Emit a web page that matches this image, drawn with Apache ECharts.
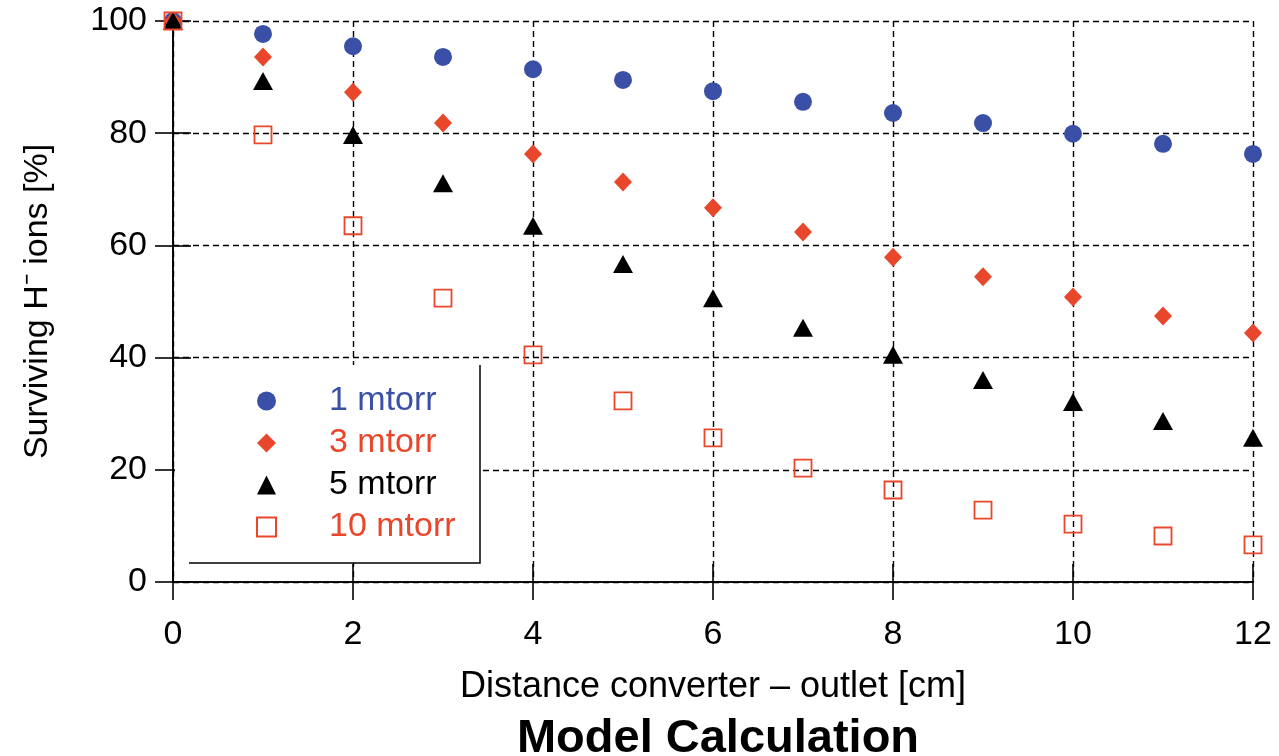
<!DOCTYPE html>
<html>
<head>
<meta charset="utf-8">
<title>Model Calculation</title>
<script src="https://cdn.jsdelivr.net/npm/echarts@6/dist/echarts.min.js"></script>
<style>
  html, body { margin: 0; padding: 0; background: #fff; }
  #chart { width: 1279px; height: 756px; }
</style>
</head>
<body>
<div id="chart"></div>
<script>
// distance converter - outlet [cm]
var distance = [0, 1, 2, 3, 4, 5, 6, 7, 8, 9, 10, 11, 12];

// surviving H- ions [%]
var mtorr1  = [100, 97.7, 95.5, 93.6, 91.4, 89.5, 87.5, 85.6, 83.6, 81.8, 79.9, 78.1, 76.3];
var mtorr3  = [100, 93.6, 87.3, 81.8, 76.3, 71.3, 66.7, 62.4, 57.9, 54.4, 50.8, 47.4, 44.4];
var mtorr5  = [100, 89.3, 79.7, 71.1, 63.5, 56.7, 50.6, 45.3, 40.5, 36.0, 32.1, 28.7, 25.7];
var mtorr10 = [100, 79.7, 63.5, 50.6, 40.5, 32.3, 25.7, 20.3, 16.4, 12.8, 10.3, 8.2, 6.6];

var seriesNames = ['1 mtorr', '3 mtorr', '5 mtorr', '10 mtorr'];

var BLUE = '#3a4fa6', RED = '#e8472b', BLACK = '#000';
var FONT = '"Liberation Sans", Arial, sans-serif';

function pairs(ys){
    var out = [];
    for(var i = 0; i < distance.length; i++){
        out.push([distance[i], ys[i]]);
    }
    return out;
}

var chart = echarts.init(document.getElementById('chart'));

var gridLine = { show: true, lineStyle: { color: '#000', width: 1.4, type: [6, 4] } };
var frameLine = { show: true, lineStyle: { color: '#000', width: 1.6 } };
var inTick = { show: true, inside: true, length: 18, lineStyle: { color: '#000', width: 1.6 } };

var option = {
    backgroundColor: '#fff',
    animation: false,
    title: {
        text: 'Model Calculation',
        left: 713,
        top: 711,
        textAlign: 'center',
        textStyle: { fontFamily: FONT, fontSize: 47, fontWeight: 'bold', color: '#000' }
    },
    grid: { left: 173, right: 26, top: 21, bottom: 174, containLabel: false },
    legend: {
        orient: 'vertical',
        left: 256,
        top: 384,
        padding: 0,
        itemWidth: 19,
        itemHeight: 19,
        itemGap: 8,
        textStyle: { fontFamily: FONT, fontSize: 34, lineHeight: 34, padding: [0, 0, 0, 48] },
        data: [
            { name: seriesNames[0], textStyle: { color: BLUE } },
            { name: seriesNames[1], textStyle: { color: RED } },
            { name: seriesNames[2], textStyle: { color: BLACK } },
            { name: seriesNames[3], textStyle: { color: RED } }
        ]
    },
    graphic: [
        {
            type: 'rect', z: 3,
            shape: { x: 175, y: 365, width: 305, height: 198 },
            style: { fill: '#fff' }
        },
        {
            type: 'polyline', z: 3,
            shape: { points: [[189, 563], [480, 563], [480, 365]] },
            style: { stroke: '#000', lineWidth: 1.5, fill: null }
        }
    ],
    xAxis: [{
        type: 'value', min: 0, max: 12, interval: 2,
        name: 'Distance converter \u2013 outlet [cm]',
        nameLocation: 'middle', nameGap: 87,
        nameTextStyle: { fontFamily: FONT, fontSize: 36, color: '#000' },
        axisLine: frameLine, axisTick: inTick,
        axisLabel: { fontFamily: FONT, fontSize: 34, color: '#000', margin: 36 },
        splitLine: gridLine
    }, {
        type: 'value', min: 0, max: 12, interval: 2, position: 'top',
        axisLine: frameLine, axisTick: inTick,
        axisLabel: { show: false }, splitLine: { show: false }
    }],
    yAxis: [{
        type: 'value', min: 0, max: 100, interval: 20,
        name: 'Surviving H\u207B ions [%]',
        nameLocation: 'middle', nameGap: 118, nameRotate: 90,
        nameTextStyle: { fontFamily: FONT, fontSize: 34, color: '#000' },
        axisLine: frameLine, axisTick: inTick,
        axisLabel: { fontFamily: FONT, fontSize: 34, color: '#000', margin: 26 },
        splitLine: gridLine
    }, {
        type: 'value', min: 0, max: 100, interval: 20, position: 'right',
        axisLine: frameLine, axisTick: inTick,
        axisLabel: { show: false }, splitLine: { show: false }
    }],
    series: [{
        name: seriesNames[0], type: 'scatter', clip: false,
        symbol: 'circle', symbolSize: 18,
        itemStyle: { color: BLUE, opacity: 1 },
        data: pairs(mtorr1)
    }, {
        name: seriesNames[1], type: 'scatter', clip: false,
        symbol: 'diamond', symbolSize: [18, 19],
        itemStyle: { color: RED, opacity: 1 },
        data: pairs(mtorr3)
    }, {
        name: seriesNames[2], type: 'scatter', clip: false,
        symbol: 'triangle', symbolSize: [20, 18],
        itemStyle: { color: BLACK, opacity: 1 },
        data: pairs(mtorr5)
    }, {
        name: seriesNames[3], type: 'scatter', clip: false,
        symbol: 'rect', symbolSize: 17,
        itemStyle: { color: 'rgba(255,255,255,0)', borderColor: RED, borderWidth: 1.8, opacity: 1 },
        data: pairs(mtorr10)
    }]
};

chart.setOption(option);
</script>
</body>
</html>
